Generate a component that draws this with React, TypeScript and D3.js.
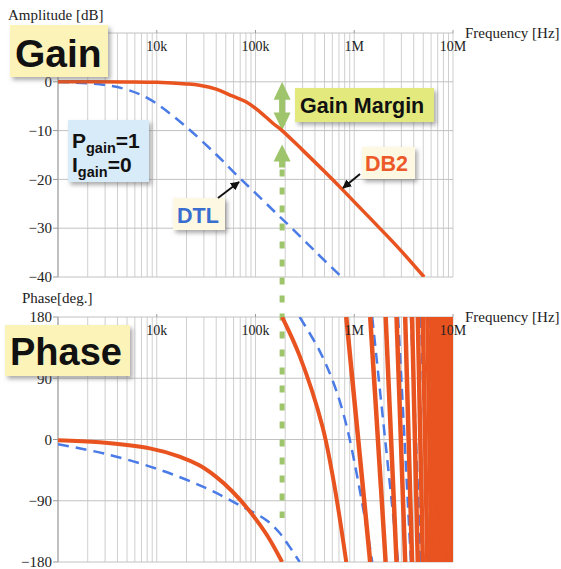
import React from 'react';
import * as d3 from 'd3';

// axis ticks
const freqTicks = [1e4, 1e5, 1e6, 1e7];
const freqLabels = ['10k', '100k', '1M', '10M'];
const gainTicks = [0, -10, -20, -30, -40];
const gainGrid = [10, 0, -10, -20, -30, -40];
const phaseTicks = [180, 90, 0, -90, -180];

// gain [Hz] / [dB]
const db2GainF = [1e3, 5e3, 1e4, 2e4, 2.7e4, 4e4, 5.8e4, 8e4, 1.1e5, 1.5e5, 1.86e5, 3e5, 5e5, 7.6e5, 1e6, 2e6, 3e6, 5.1e6];
const db2GainDb = [0, -0.03, -0.11, -0.43, -0.7, -1.5, -2.9, -4.1, -6.1, -8.5, -10, -14.0, -18.4, -22.1, -24.6, -30.9, -34.7, -40];
const dtlGainF = [1e3, 2.65e3, 5e3, 8.5e3, 1.8e4, 4e4, 6.9e4, 1e5, 1.75e5, 2.2e5, 4e5, 7.9e5];
const dtlGainDb = [-0.05, -0.5, -1.6, -3.6, -8.5, -14.9, -19.7, -22.8, -27.6, -29.5, -34.7, -40.5];

// phase [Hz] / [deg]
const db2PhaseF = [1e3, 2.65e3, 8.5e3, 1.7e4, 2.7e4, 4e4, 5.8e4, 8.7e4, 1.3e5, 1.86e5];
const db2PhaseDeg = [-1, -4, -13, -25, -38, -55, -76, -105, -140, -180];
const db2Wrap1F = [1.86e5, 2.78e5, 4.75e5, 6.28e5, 8.3e5];
const db2Wrap1Deg = [180, 124, 20, -67, -180];
// frequencies where the DB2 phase wraps from -180 to +180
const db2WrapF = [8.3e5, 1.45e6, 2.08e6, 2.68e6, 3.28e6, 3.85e6, 4.4e6, 4.95e6, 5.5e6, 6.05e6, 6.6e6, 7.15e6, 7.7e6, 8.25e6, 8.8e6, 9.35e6, 9.9e6, 1.05e7];

const dtlPhaseF = [1e3, 3e3, 1e4, 3e4, 7e4, 1.3e5, 1.75e5, 2.2e5, 2.8e5];
const dtlPhaseDeg = [-7, -21, -43, -70, -97, -119, -137, -157, -180];
const dtlWrap1F = [2.8e5, 4.43e5, 6.28e5, 8.49e5, 1.35e6, 1.52e6];
const dtlWrap1Deg = [180, 131, 80, 16, -134, -180];
const dtlWrapF = [1.52e6, 2.78e6, 3.75e6, 4.73e6, 5.7e6, 6.7e6, 7.7e6, 8.7e6, 9.7e6, 1.07e7];

const gmFreq = 1.86e5;

const ORANGE = '#e8531f';
const BLUE = '#4a7be6';
const GREEN = '#9fc56c';
const GRID = '#cfcfcf';
const SERIF = '"Liberation Serif", "Times New Roman", serif';
const SANS = '"Liberation Sans", Arial, Helvetica, sans-serif';

export default function App() {
  const x = d3.scaleLog().domain([1e3, 1e7]).range([58, 453]);
  const yG = d3.scaleLinear().domain([-40, 10]).range([277, 33]);
  const yP = d3.scaleLinear().domain([-180, 180]).range([562, 317]);

  const mk = (fs: number[], vs: number[], y: (v: number) => number) =>
    d3.line<number>()
      .x((_, i) => x(fs[i]))
      .y((_, i) => y(vs[i]))
      .curve(d3.curveCatmullRom.alpha(0.5))(fs) || '';

  const wraps = (fs: number[]) =>
    d3.pairs(fs).map(([a, b]) =>
      d3.line<[number, number]>()([[x(a), yP(180)], [x(b), yP(-180)]]) || '');

  const vGrid = x.ticks();
  const [x0, x1] = x.range();
  const gx = x(gmFreq);

  const gTop = yG(0), gBot = yG(-10);
  const dbl = [
    [gx, gTop], [gx + 8.5, gTop + 18], [gx + 3, gTop + 18], [gx + 3, gBot - 18], [gx + 8.5, gBot - 18],
    [gx, gBot], [gx - 8.5, gBot - 18], [gx - 3, gBot - 18], [gx - 3, gTop + 18], [gx - 8.5, gTop + 18],
  ].map(p => p.join(',')).join(' ');
  const upTip = gBot + 14;
  const up = [
    [gx, upTip], [gx + 8.5, upTip + 17], [gx + 3, upTip + 17], [gx + 3, upTip + 23],
    [gx - 3, upTip + 23], [gx - 3, upTip + 17], [gx - 8.5, upTip + 17],
  ].map(p => p.join(',')).join(' ');

  const grid = (y: d3.ScaleLinear<number, number>, hLines: number[], key: string) => {
    const [yb, yt] = y.range();
    return (
      <g key={key}>
        {vGrid.map(f => (
          <line key={f} x1={x(f)} x2={x(f)} y1={yt} y2={yb} stroke={GRID} strokeWidth={1} />
        ))}
        {hLines.map(v => (
          <line key={v} x1={x0} x2={x1} y1={y(v)} y2={y(v)} stroke="#c2c2c2" strokeWidth={1} />
        ))}
        <line x1={x0} x2={x0} y1={yt} y2={yb} stroke="#9a9a9a" />
      </g>
    );
  };

  const labels = (y: d3.ScaleLinear<number, number>, ticks: number[], key: string) => {
    const yt = y.range()[1];
    return (
      <g key={key}>
        {ticks.map(v => (
          <g key={v}>
            <line x1={x0 - 5} x2={x0} y1={y(v)} y2={y(v)} stroke="#9a9a9a" />
            <text x={52} y={y(v)} dy="0.35em" textAnchor="end" fontFamily={SERIF} fontSize={15} fill="#222">
              {v < 0 ? '\u2212' + Math.abs(v) : v}
            </text>
          </g>
        ))}
        {freqTicks.map((f, i) => (
          <g key={f}>
            <line x1={x(f)} x2={x(f)} y1={yt - 3} y2={yt} stroke="#9a9a9a" />
            <text x={x(f)} y={yt + 18} textAnchor="middle" fontFamily={SERIF} fontSize={14} fill="#222">
              {freqLabels[i]}
            </text>
          </g>
        ))}
        <text x={465} y={yt + 5} fontFamily={SERIF} fontSize={15} fill="#222">Frequency [Hz]</text>
      </g>
    );
  };

  const dash = '11,7';

  return (
    <svg width={561} height={569} style={{ position: 'absolute', left: 0, top: 0, background: '#fff' }}>
      <defs>
        <clipPath id="clipG"><rect x={x0} y={yG(10)} width={x1 - x0} height={yG(-40) - yG(10)} /></clipPath>
        <clipPath id="clipP"><rect x={x0} y={yP(180)} width={x1 - x0} height={yP(-180) - yP(180)} /></clipPath>
        <filter id="shadow" x="-20%" y="-20%" width="150%" height="160%">
          <feDropShadow dx={2.5} dy={3} stdDeviation={2} floodColor="#666" floodOpacity={0.55} />
        </filter>
        <marker id="arr" viewBox="0 0 10 10" refX={9} refY={5} markerWidth={9} markerHeight={9}
          markerUnits="userSpaceOnUse" orient="auto">
          <path d="M0,0 L10,5 L0,10 z" fill="#111" />
        </marker>
      </defs>

      {grid(yG, gainGrid, 'gg')}
      {grid(yP, phaseTicks, 'pg')}

      {/* gain margin marker */}
      <polygon points={dbl} fill={GREEN} />
      <polygon points={up} fill={GREEN} />
      <line x1={gx} x2={gx} y1={upTip + 25} y2={518} stroke={GREEN} strokeWidth={5} strokeDasharray="7,11" />

      <g clipPath="url(#clipG)" fill="none">
        <path d={mk(dtlGainF, dtlGainDb, yG)} stroke={BLUE} strokeWidth={2.5} strokeDasharray={dash} />
        <path d={mk(db2GainF, db2GainDb, yG)} stroke={ORANGE} strokeWidth={3.5} />
      </g>

      <g clipPath="url(#clipP)" fill="none">
        <path d={mk(dtlPhaseF, dtlPhaseDeg, yP)} stroke={BLUE} strokeWidth={2.5} strokeDasharray={dash} />
        <path d={mk(dtlWrap1F, dtlWrap1Deg, yP)} stroke={BLUE} strokeWidth={2.5} strokeDasharray={dash} />
        {wraps(dtlWrapF).map((d, i) => (
          <path key={'b' + i} d={d} stroke={BLUE} strokeWidth={2.5} strokeDasharray={dash} />
        ))}
        <path d={mk(db2PhaseF, db2PhaseDeg, yP)} stroke={ORANGE} strokeWidth={4} />
        <path d={mk(db2Wrap1F, db2Wrap1Deg, yP)} stroke={ORANGE} strokeWidth={4} />
        {wraps(db2WrapF).map((d, i) => (
          <path key={'o' + i} d={d} stroke={ORANGE} strokeWidth={4.5} />
        ))}
      </g>

      {labels(yG, gainTicks, 'gl')}
      {labels(yP, phaseTicks, 'pl')}
      <text x={8} y={20} fontFamily={SERIF} fontSize={15} fill="#222">Amplitude [dB]</text>
      <text x={22} y={303} fontFamily={SERIF} fontSize={15} fill="#222">Phase[deg.]</text>

      {/* annotations */}
      <g filter="url(#shadow)">
        <rect x={10} y={25} width={98} height={52} fill="#fcf3b9" />
        <rect x={5} y={325} width={125} height={51} fill="#fcf3b9" />
        <rect x={295} y={88} width={139} height={34} fill="#e3e97b" />
        <rect x={68} y={120} width={81} height={62} fill="#d8ebf9" />
        <rect x={173} y={198} width={52} height={32} fill="#fdf8e1" />
        <rect x={362} y={147} width={53} height={32} fill="#fdf8e1" />
      </g>
      <text x={15} y={67} fontFamily={SANS} fontWeight="bold" fontSize={39} fill="#111">Gain</text>
      <text x={10} y={365} fontFamily={SANS} fontWeight="bold" fontSize={38} fill="#111">Phase</text>
      <text x={300} y={113} fontFamily={SANS} fontWeight="bold" fontSize={21.5} fill="#111">Gain Margin</text>
      <text x={72} y={148} fontFamily={SANS} fontWeight="bold" fontSize={21} fill="#111">
        P<tspan fontSize={14.5} dy={5}>gain</tspan><tspan dy={-5}>=1</tspan>
      </text>
      <text x={72} y={172} fontFamily={SANS} fontWeight="bold" fontSize={21} fill="#111">
        I<tspan fontSize={14.5} dy={5}>gain</tspan><tspan dy={-5}>=0</tspan>
      </text>
      <text x={177} y={223} fontFamily={SANS} fontWeight="bold" fontSize={21.5} fill="#3a6dd0">DTL</text>
      <text x={365} y={171} fontFamily={SANS} fontWeight="bold" fontSize={21.5} fill="#ec5a2a">DB2</text>

      <line x1={218} y1={198} x2={239} y2={182} stroke="#111" strokeWidth={2} markerEnd="url(#arr)" />
      <line x1={360} y1={174} x2={343} y2={188} stroke="#111" strokeWidth={2} markerEnd="url(#arr)" />
    </svg>
  );
}
